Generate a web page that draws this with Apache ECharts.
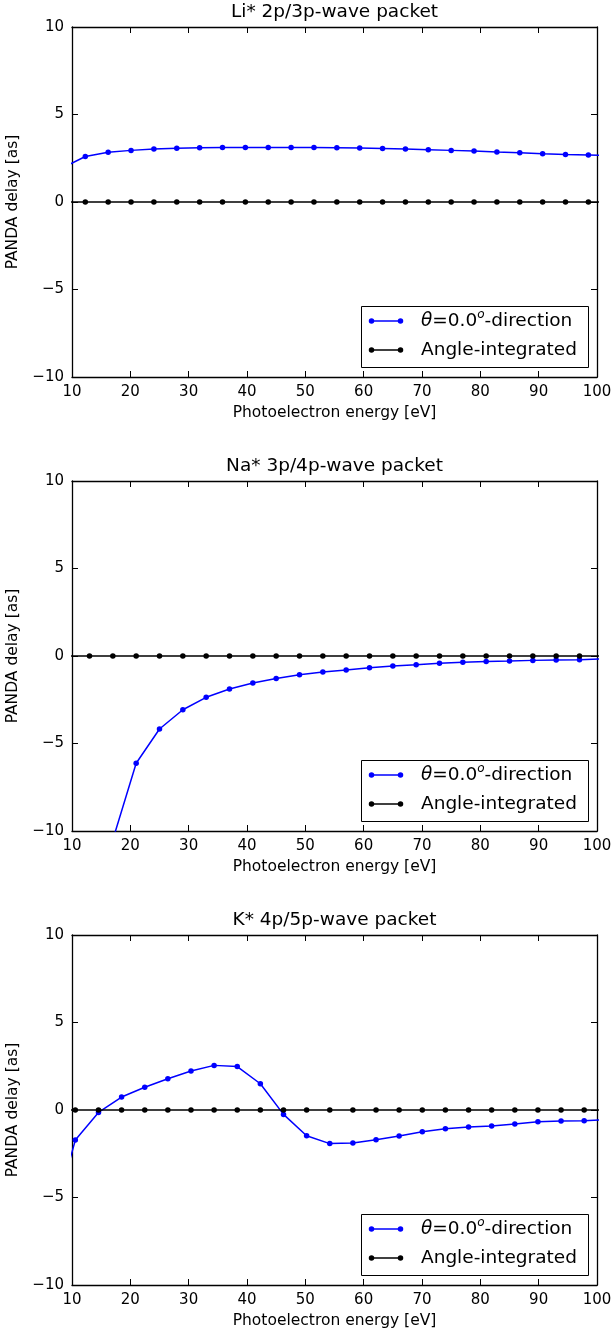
<!DOCTYPE html>
<html>
<head>
<meta charset="utf-8">
<script src="https://cdn.jsdelivr.net/npm/echarts@6/dist/echarts.min.js"></script>
<style>
html,body{margin:0;padding:0;background:#fff;}
#chart{width:611px;height:1332px;}
</style>
</head>
<body>
<div id="chart"></div>
<script>
// ---------- data ----------
const panelTitles = ['Li* 2p/3p-wave packet', 'Na* 3p/4p-wave packet', 'K* 4p/5p-wave packet'];
const seriesNames = ['θ=0.0o-direction', 'Angle-integrated'];
const xTicks = [10, 20, 30, 40, 50, 60, 70, 80, 90, 100];
const yTicks = [-10, -5, 0, 5, 10];

const liEnergy = [8.36, 12.28, 16.20, 20.12, 24.04, 27.96, 31.88, 35.80, 39.72, 43.64, 47.56, 51.48, 55.40, 59.32, 63.24, 67.16, 71.08, 75.00, 78.92, 82.84, 86.76, 90.68, 94.60, 98.52, 102.44];
const liTheta = [1.95, 2.60, 2.84, 2.95, 3.03, 3.07, 3.10, 3.11, 3.12, 3.12, 3.12, 3.11, 3.10, 3.08, 3.06, 3.03, 2.99, 2.95, 2.91, 2.86, 2.82, 2.76, 2.72, 2.69, 2.66];
const liIntegrated = [0, 0, 0, 0, 0, 0, 0, 0, 0, 0, 0, 0, 0, 0, 0, 0, 0, 0, 0, 0, 0, 0, 0, 0, 0];

const naEnergy = [9, 13, 17, 21, 25, 29, 33, 37, 41, 45, 49, 53, 57, 61, 65, 69, 73, 77, 81, 85, 89, 93, 97, 101];
const naTheta = [null, -20.0, -10.5, -6.13, -4.17, -3.07, -2.36, -1.89, -1.54, -1.28, -1.07, -0.91, -0.80, -0.67, -0.57, -0.50, -0.42, -0.36, -0.32, -0.29, -0.25, -0.23, -0.21, -0.16];
const naIntegrated = [0, 0, 0, 0, 0, 0, 0, 0, 0, 0, 0, 0, 0, 0, 0, 0, 0, 0, 0, 0, 0, 0, 0, 0];

const kEnergy = [6.61, 10.57, 14.54, 18.50, 22.47, 26.43, 30.40, 34.36, 38.33, 42.29, 46.26, 50.22, 54.19, 58.15, 62.12, 66.08, 70.05, 74.01, 77.98, 81.94, 85.91, 89.87, 93.84, 97.80, 101.77];
const kTheta = [-6.5, -1.72, -0.14, 0.74, 1.30, 1.79, 2.23, 2.55, 2.48, 1.50, -0.25, -1.47, -1.92, -1.89, -1.70, -1.49, -1.24, -1.07, -0.97, -0.91, -0.80, -0.67, -0.63, -0.61, -0.56];
const kIntegrated = [0, 0, 0, 0, 0, 0, 0, 0, 0, 0, 0, 0, 0, 0, 0, 0, 0, 0, 0, 0, 0, 0, 0, 0, 0];

// ---------- build ----------
const FONT = 'DejaVu Sans';
const COLORS = ['#0000ff', '#000000'];
const panels = [
  {x: liEnergy, a: liTheta, b: liIntegrated},
  {x: naEnergy, a: naTheta, b: naIntegrated},
  {x: kEnergy, a: kTheta, b: kIntegrated}
];
const TOP0 = 27, STEP = 454, LEFT = 72, W = 525, H = 350;
const fmt = v => String(v).replace('-', '\u2212');

const grid = [], xAxis = [], yAxis = [], series = [], title = [], graphic = [];
panels.forEach((p, i) => {
  const top = TOP0 + i * STEP;
  grid.push({left: LEFT, top: top, width: W, height: H, containLabel: false, outerBoundsMode: 'none'});
  const axisLine = {show: true, onZero: false, lineStyle: {color: '#000', width: 1.3}};
  const tick = {show: true, inside: true, length: 6, lineStyle: {color: '#000', width: 1}};
  xAxis.push({
    type: 'value', gridIndex: i, position: 'bottom', min: xTicks[0], max: xTicks[xTicks.length - 1], interval: 10,
    axisLine, axisTick: tick, splitLine: {show: false},
    axisLabel: {color: '#000', fontFamily: FONT, fontSize: 15, margin: 8, formatter: fmt},
    name: 'Photoelectron energy [eV]', nameLocation: 'middle', nameGap: 28,
    nameTextStyle: {color: '#000', fontFamily: FONT, fontSize: 15.5}
  });
  yAxis.push({
    type: 'value', gridIndex: i, position: 'left', min: yTicks[0], max: yTicks[yTicks.length - 1], interval: 5,
    axisLine, axisTick: tick, splitLine: {show: false},
    axisLabel: {color: '#000', fontFamily: FONT, fontSize: 15, margin: 8, formatter: fmt},
    name: 'PANDA delay [as]', nameLocation: 'middle', nameGap: 41, nameRotate: 90,
    nameTextStyle: {color: '#000', fontFamily: FONT, fontSize: 15.5}
  });
  title.push({
    text: panelTitles[i], left: LEFT + W / 2, top: top - 24, textAlign: 'center', padding: 0,
    textStyle: {color: '#000', fontFamily: FONT, fontSize: 18.5, fontWeight: 'normal'}
  });
});
panels.forEach((p, i) => {
  xAxis.push({type: 'value', gridIndex: i, position: 'top', min: xTicks[0], max: xTicks[xTicks.length - 1], interval: 10,
    axisLine: {show: true, onZero: false, lineStyle: {color: '#000', width: 1.3}},
    axisTick: {show: true, inside: true, length: 6, lineStyle: {color: '#000', width: 1}},
    axisLabel: {show: false}, splitLine: {show: false}});
  yAxis.push({type: 'value', gridIndex: i, position: 'right', min: yTicks[0], max: yTicks[yTicks.length - 1], interval: 5,
    axisLine: {show: true, onZero: false, lineStyle: {color: '#000', width: 1.3}},
    axisTick: {show: true, inside: true, length: 6, lineStyle: {color: '#000', width: 1}},
    axisLabel: {show: false}, splitLine: {show: false}});
});
panels.forEach((p, i) => {
  [p.a, p.b].forEach((vals, k) => {
    series.push({
      type: 'line', name: seriesNames[k], xAxisIndex: i, yAxisIndex: i,
      data: p.x.map((x, j) => [x, vals[j]]),
      symbol: 'circle', symbolSize: 5.5, showSymbol: true, clip: true, connectNulls: false,
      lineStyle: {color: COLORS[k], width: 1.5},
      itemStyle: {color: COLORS[k]},
      emphasis: {disabled: true}, z: 2 + k, silent: true
    });
  });
  // legend box (drawn like the matplotlib legend)
  const oy = i * STEP;
  graphic.push({type: 'rect', z: 100, shape: {x: 361.5, y: 306.5 + oy, width: 227, height: 61},
    style: {fill: '#fff', stroke: '#000', lineWidth: 1}});
  [0, 1].forEach(r => {
    const cy = 321 + 29 * r + oy;
    graphic.push({type: 'line', z: 101, shape: {x1: 371.5, y1: cy, x2: 400.5, y2: cy}, style: {stroke: COLORS[r], lineWidth: 1.5}});
    graphic.push({type: 'circle', z: 102, shape: {cx: 371.5, cy: cy, r: 2.75}, style: {fill: COLORS[r]}});
    graphic.push({type: 'circle', z: 102, shape: {cx: 400.5, cy: cy, r: 2.75}, style: {fill: COLORS[r]}});
    const txt = r === 0 ? '{it|θ}=0.0{sup|o}-direction' : seriesNames[1];
    graphic.push({type: 'text', z: 102, x: 421, y: cy,
      style: {text: txt, fill: '#000', fontFamily: FONT, fontSize: 18.5, verticalAlign: 'middle', align: 'left',
        rich: {
          it: {fontFamily: FONT, fontSize: 18.5, fontStyle: 'italic', fill: '#000'},
          sup: {fontFamily: FONT, fontSize: 12, fontStyle: 'italic', fill: '#000', padding: [0, 0, 12, 0]}
        }}});
  });
});

const chart = echarts.init(document.getElementById('chart'), null, {renderer: 'canvas'});
chart.setOption({
  animation: false, backgroundColor: '#fff',
  title, grid, xAxis, yAxis, series, graphic
});
</script>
</body>
</html>
